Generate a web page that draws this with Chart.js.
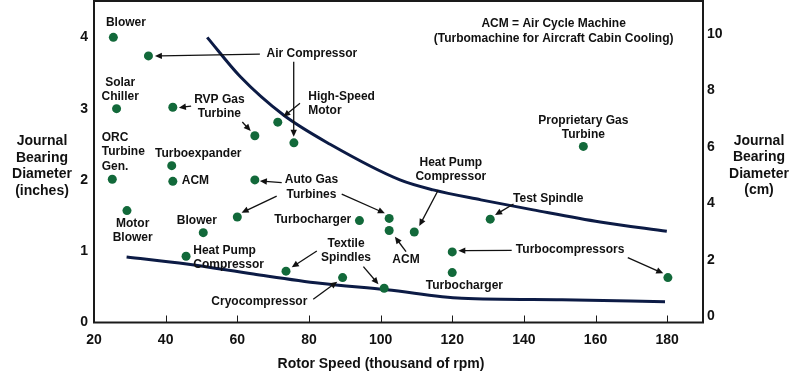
<!DOCTYPE html>
<html>
<head>
<meta charset="utf-8">
<script src="https://cdn.jsdelivr.net/npm/chart.js@4/dist/chart.umd.min.js"></script>
<style>
  html, body { margin: 0; padding: 0; background: #fff; }
  #wrap { width: 800px; height: 381px; position: relative; }
</style>
</head>
<body>
<div id="wrap"><canvas id="chart"></canvas></div>
<script>
// axis ticks
const speedTicks = [20, 40, 60, 80, 100, 120, 140, 160, 180];
const inchTicks = [0, 1, 2, 3, 4];
const cmTicks = [0, 2, 4, 6, 8, 10];

// machines (rotor speed in krpm, journal diameter in inches)
const pointSpeed = [25.4, 35.2, 26.3, 42.0, 71.3, 64.9, 75.8, 41.7, 25.1, 42.0, 64.9, 29.2, 50.5, 60.0,
  94.1, 102.4, 102.4, 45.7, 73.6, 89.4, 101.0, 109.4, 130.6, 120.0, 120.0, 180.2, 156.6];
const pointDiameter = [4.0, 3.74, 3.0, 3.02, 2.81, 2.62, 2.52, 2.2, 2.01, 1.98, 2.0, 1.57, 1.26, 1.48,
  1.43, 1.46, 1.29, 0.93, 0.72, 0.63, 0.48, 1.27, 1.45, 0.99, 0.70, 0.63, 2.47];

// upper and lower bounding curves
const upperSpeed = [51.6, 60.8, 72.9, 85.9, 105.4, 114.7, 128.0, 142.6, 161.3, 179.9];
const upperDiameter = [4.0, 3.45, 2.91, 2.5, 2.0, 1.86, 1.72, 1.58, 1.41, 1.28];
const lowerSpeed = [29.1, 45.9, 64.5, 83.1, 101.7, 122.7, 150.6, 179.4];
const lowerDiameter = [0.92, 0.82, 0.68, 0.55, 0.46, 0.34, 0.32, 0.29];

// annotation text, placed in data units
const notes = [
  { text: ['Blower'], x: 28.9, y: 4.205 },
  { text: ['Air Compressor'], x: 80.8, y: 3.766 },
  { text: ['Solar', 'Chiller'], x: 27.3, y: 3.363 },
  { text: ['RVP Gas', 'Turbine'], x: 55.0, y: 3.13 },
  { text: ['High-Speed', 'Motor'], x: 79.8, y: 3.167, align: 'left' },
  { text: ['ORC', 'Turbine', 'Gen.'], x: 22.15, y: 2.592, align: 'left' },
  { text: ['Turboexpander'], x: 49.1, y: 2.363 },
  { text: ['ACM'], x: 44.5, y: 1.985, align: 'left' },
  { text: ['Auto Gas', 'Turbines'], x: 80.7, y: 1.999 },
  { text: ['Motor', 'Blower'], x: 30.8, y: 1.391 },
  { text: ['Blower'], x: 48.7, y: 1.433 },
  { text: ['Turbocharger'], x: 81.05, y: 1.447 },
  { text: ['Heat Pump', 'Compressor'], x: 47.7, y: 1.013, align: 'left' },
  { text: ['Textile', 'Spindles'], x: 90.35, y: 1.111 },
  { text: ['Cryocompressor'], x: 66.15, y: 0.288 },
  { text: ['Heat Pump', 'Compressor'], x: 119.6, y: 2.241 },
  { text: ['ACM'], x: 107.1, y: 0.886 },
  { text: ['Test Spindle'], x: 146.8, y: 1.742 },
  { text: ['Turbocompressors'], x: 152.9, y: 1.017 },
  { text: ['Turbocharger'], x: 123.4, y: 0.516 },
  { text: ['ACM = Air Cycle Machine', '(Turbomachine for Aircraft Cabin Cooling)'], x: 148.3, y: 4.187 },
  { text: ['Proprietary Gas', 'Turbine'], x: 156.6, y: 2.83 },
];

// leader arrows: [fromX, fromY, toX, toY] in data units
const arrows = [
  [66.3, 3.766, 37.0, 3.738],
  [75.75, 3.658, 75.75, 2.606],
  [47.1, 3.036, 43.7, 3.013],
  [61.4, 2.812, 63.75, 2.686],
  [77.5, 3.074, 72.85, 2.886],
  [72.4, 1.961, 66.3, 1.985],
  [71.0, 1.774, 61.2, 1.54],
  [89.15, 1.802, 101.2, 1.532],
  [82.2, 1.003, 75.2, 0.774],
  [95.2, 0.783, 99.4, 0.536],
  [81.2, 0.325, 87.9, 0.572],
  [116.1, 1.858, 110.8, 1.353],
  [107.1, 0.993, 104.0, 1.203],
  [137.1, 1.662, 131.95, 1.508],
  [136.6, 1.013, 121.7, 1.007],
  [169.0, 0.909, 178.9, 0.69],
];

const FONT = '"Liberation Sans", Arial, sans-serif';
Chart.defaults.font.family = FONT;
Chart.defaults.color = '#111';

const pts = (xs, ys) => xs.map((v, i) => ({ x: v, y: ys[i] }));

const drawArrow = (ctx, x1, y1, x2, y2) => {
  const ang = Math.atan2(y2 - y1, x2 - x1);
  const len = 7, hw = 3.2;
  ctx.beginPath();
  ctx.moveTo(x1, y1);
  ctx.lineTo(x2 - Math.cos(ang) * len * 0.8, y2 - Math.sin(ang) * len * 0.8);
  ctx.stroke();
  ctx.beginPath();
  ctx.moveTo(x2, y2);
  ctx.lineTo(x2 - Math.cos(ang) * len - Math.sin(ang) * hw, y2 - Math.sin(ang) * len + Math.cos(ang) * hw);
  ctx.lineTo(x2 - Math.cos(ang) * len + Math.sin(ang) * hw, y2 - Math.sin(ang) * len - Math.cos(ang) * hw);
  ctx.closePath();
  ctx.fill();
};

// no extra label padding, the frame has to sit at fixed spots
const noPad = s => { s.paddingTop = 0; s.paddingBottom = 0; s.paddingLeft = 0; s.paddingRight = 0; };

const notesPlugin = {
  id: 'notes',
  afterDraw(chart) {
    const { ctx, chartArea: a, scales: { x, y } } = chart;
    ctx.save();
    // frame
    ctx.strokeStyle = '#1a1a1a';
    ctx.lineWidth = 2;
    ctx.strokeRect(a.left, a.top, a.right - a.left, a.bottom - a.top);
    // inner tick marks on x axis
    ctx.lineWidth = 1;
    speedTicks.slice(1).forEach(v => {
      const px = Math.round(x.getPixelForValue(v)) + 0.5;
      ctx.beginPath(); ctx.moveTo(px, a.bottom); ctx.lineTo(px, a.bottom - 7); ctx.stroke();
    });
    // arrows
    ctx.strokeStyle = '#111';
    ctx.fillStyle = '#111';
    ctx.lineWidth = 1.3;
    arrows.forEach(([x1, y1, x2, y2]) => drawArrow(ctx,
      x.getPixelForValue(x1), y.getPixelForValue(y1), x.getPixelForValue(x2), y.getPixelForValue(y2)));
    // labels
    ctx.font = 'bold 12px ' + FONT;
    ctx.textBaseline = 'middle';
    notes.forEach(n => {
      ctx.textAlign = n.align || 'center';
      const px = x.getPixelForValue(n.x), py = y.getPixelForValue(n.y);
      n.text.forEach((t, i) => ctx.fillText(t, px, py + i * 14.3));
    });
    // axis titles
    ctx.font = 'bold 14px ' + FONT;
    ctx.textAlign = 'center';
    ['Journal', 'Bearing', 'Diameter', '(inches)'].forEach((t, i) => ctx.fillText(t, 42, 141 + i * 16.7));
    ['Journal', 'Bearing', 'Diameter', '(cm)'].forEach((t, i) => ctx.fillText(t, 759, 141 + i * 16.5));
    ctx.fillText('Rotor Speed (thousand of rpm)', 381, 364);
    ctx.restore();
  }
};

new Chart(document.getElementById('chart'), {
  type: 'scatter',
  data: {
    datasets: [
      { label: 'Machines', data: pts(pointSpeed, pointDiameter), backgroundColor: '#12693a', borderWidth: 0,
        pointRadius: 4.5, order: 0 },
      { label: 'Upper', data: pts(upperSpeed, upperDiameter), showLine: true, borderColor: '#0c1b45',
        borderWidth: 3, pointRadius: 0, cubicInterpolationMode: 'monotone', order: 1 },
      { label: 'Lower', data: pts(lowerSpeed, lowerDiameter), showLine: true, borderColor: '#0c1b45',
        borderWidth: 3, pointRadius: 0, cubicInterpolationMode: 'monotone', order: 1 },
    ]
  },
  options: {
    responsive: true, maintainAspectRatio: false, animation: false,
    layout: { autoPadding: false, padding: { top: 1, left: 0, right: 0, bottom: 0 } },
    plugins: { legend: { display: false }, tooltip: { enabled: false } },
    scales: {
      x: {
        type: 'linear', min: 20, max: 190,
        afterBuildTicks: s => { s.ticks = speedTicks.map(v => ({ value: v })); },
        afterFit: s => { s.height = 58.5; noPad(s); },
        grid: { display: false, drawTicks: false }, border: { display: false },
        ticks: { font: { size: 14, weight: 'bold' }, padding: 9, maxRotation: 0, autoSkip: false }
      },
      y: {
        type: 'linear', position: 'left', min: 0, max: 4.51,
        afterBuildTicks: s => { s.ticks = inchTicks.map(v => ({ value: v })); },
        afterFit: s => { s.width = 94; noPad(s); },
        grid: { display: false, drawTicks: false }, border: { display: false },
        ticks: { font: { size: 14, weight: 'bold' }, padding: 6 }
      },
      y2: {
        type: 'linear', position: 'right', min: -0.21, max: 11.17,
        afterBuildTicks: s => { s.ticks = cmTicks.map(v => ({ value: v })); },
        afterFit: s => { s.width = 97; noPad(s); },
        grid: { display: false, drawTicks: false }, border: { display: false },
        ticks: { font: { size: 14, weight: 'bold' }, padding: 4 }
      }
    }
  },
  plugins: [notesPlugin]
});
</script>
</body>
</html>
